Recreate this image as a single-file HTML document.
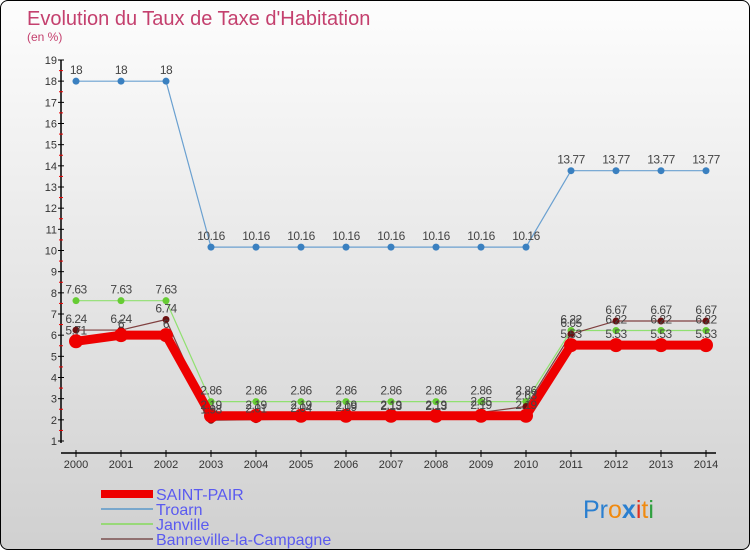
<!DOCTYPE html>
<html><head><meta charset="utf-8"><style>
body{margin:0}
#wrap{width:748px;height:548px;border:1px solid #000;border-radius:8px;overflow:hidden;position:relative;background:linear-gradient(#fdfdfd,#d0d0d0);font-family:"Liberation Sans",sans-serif}
</style></head><body>
<div id="wrap">
<svg id="svg" width="748" height="548" xmlns="http://www.w3.org/2000/svg">
<text x="26" y="24" font-size="20" fill="#c4406e">Evolution du Taux de Taxe d'Habitation</text>
<text x="26" y="40" font-size="12" fill="#c4406e">(en %)</text>
<g id="axes"></g><g id="series"></g><g id="labels"></g>
<g>
<rect x="100" y="489" width="52" height="8" fill="#e00"/>
<text x="155" y="499" font-size="16" fill="#5a5af0">SAINT-PAIR</text>
<rect x="100" y="507" width="52" height="2" fill="#79a7cc"/>
<text x="155" y="514" font-size="16" fill="#5a5af0">Troarn</text>
<rect x="100" y="522" width="52" height="2" fill="#98d878"/>
<text x="155" y="529" font-size="16" fill="#5a5af0">Janville</text>
<rect x="100" y="537" width="52" height="2" fill="#907070"/>
<text x="155" y="544" font-size="16" fill="#5a5af0">Banneville-la-Campagne</text>
</g>
<text x="582" y="517" font-size="25"><tspan fill="#2a7fd0">Pr</tspan><tspan fill="#f08a10">o</tspan><tspan fill="#2a7fd0" font-weight="bold">x</tspan><tspan fill="#e03020">i</tspan><tspan fill="#f08a10">t</tspan><tspan fill="#30a040">i</tspan></text>
</svg>
<script>
const years=[2000,2001,2002,2003,2004,2005,2006,2007,2008,2009,2010,2011,2012,2013,2014];
const saintPair=[5.71,6.0,6.0,2.19,2.19,2.19,2.19,2.19,2.19,2.19,2.19,5.53,5.53,5.53,5.53];
const troarn=[18,18,18,10.16,10.16,10.16,10.16,10.16,10.16,10.16,10.16,13.77,13.77,13.77,13.77];
const janville=[7.63,7.63,7.63,2.86,2.86,2.86,2.86,2.86,2.86,2.86,2.86,6.22,6.22,6.22,6.22];
const banneville=[6.24,6.24,6.74,1.98,2.01,2.04,2.09,2.13,2.13,2.35,2.63,6.05,6.67,6.67,6.67];
const yTicks=[1,2,3,4,5,6,7,8,9,10,11,12,13,14,15,16,17,18,19];
const NS="http://www.w3.org/2000/svg";
const X=i=>75+i*45;
const Y=v=>440-(v-1)*(381/18);
function mk(t,a,p){const e=document.createElementNS(NS,t);for(const k in a)e.setAttribute(k,a[k]);p.appendChild(e);return e;}
const ax=document.getElementById('axes');
let l=mk('line',{x1:60,y1:Y(19),x2:60,y2:442,stroke:'#000','stroke-width':1.5},ax);


l=mk('line',{x1:60,y1:452,x2:715,y2:452,stroke:'#000','stroke-width':1.5},ax);


yTicks.forEach(v=>{
 mk('line',{x1:57,x2:63,y1:Y(v),y2:Y(v),stroke:'#000'},ax);
 if(v<19)mk('line',{x1:58,x2:62,y1:Y(v+0.5),y2:Y(v+0.5),stroke:'#e00'},ax);
 const t=mk('text',{x:56,y:Y(v)+4,'font-size':11,fill:'#333','text-anchor':'end'},ax);
 t.textContent=v;
 
 
});
years.forEach((y,i)=>{
 mk('line',{x1:X(i),x2:X(i),y1:449,y2:456,stroke:'#000'},ax);
 const t=mk('text',{x:X(i),y:467,'font-size':11,fill:'#333','text-anchor':'middle'},ax);
 t.textContent=y;
 
 
});
const sg=document.getElementById('series'),lg=document.getElementById('labels');
function series(vals,name,color,w,r,dot,labels){
 const g=mk('g',{},sg);
 
 
 const pl=mk('polyline',{points:vals.map((v,i)=>X(i)+','+Y(v)).join(' '),fill:'none',stroke:color,'stroke-width':w,'stroke-linejoin':'round'},g);
 
 
 vals.forEach((v,i)=>{
  const c=mk('circle',{cx:X(i),cy:Y(v),r:r,fill:dot},g);
  
  
  if(labels){const t=mk('text',{x:X(i),y:Y(v)-7,'font-size':12,fill:'#444','text-anchor':'middle','letter-spacing':'-0.5'},lg);
  t.textContent=String(v);
  
  }
 });
}
series(troarn,'troarn','#6aa0d0',1.2,3.5,'#3a80c0',true);
series(janville,'janville','#90e070',1.2,3.5,'#66cc33',true);
series(banneville,'banneville','#804040',1.2,3.5,'#6a1010',true);
series(saintPair,'saint-pair','#ee0000',9,7,'#ee0000',true);
</script>
</div>
</body></html>
